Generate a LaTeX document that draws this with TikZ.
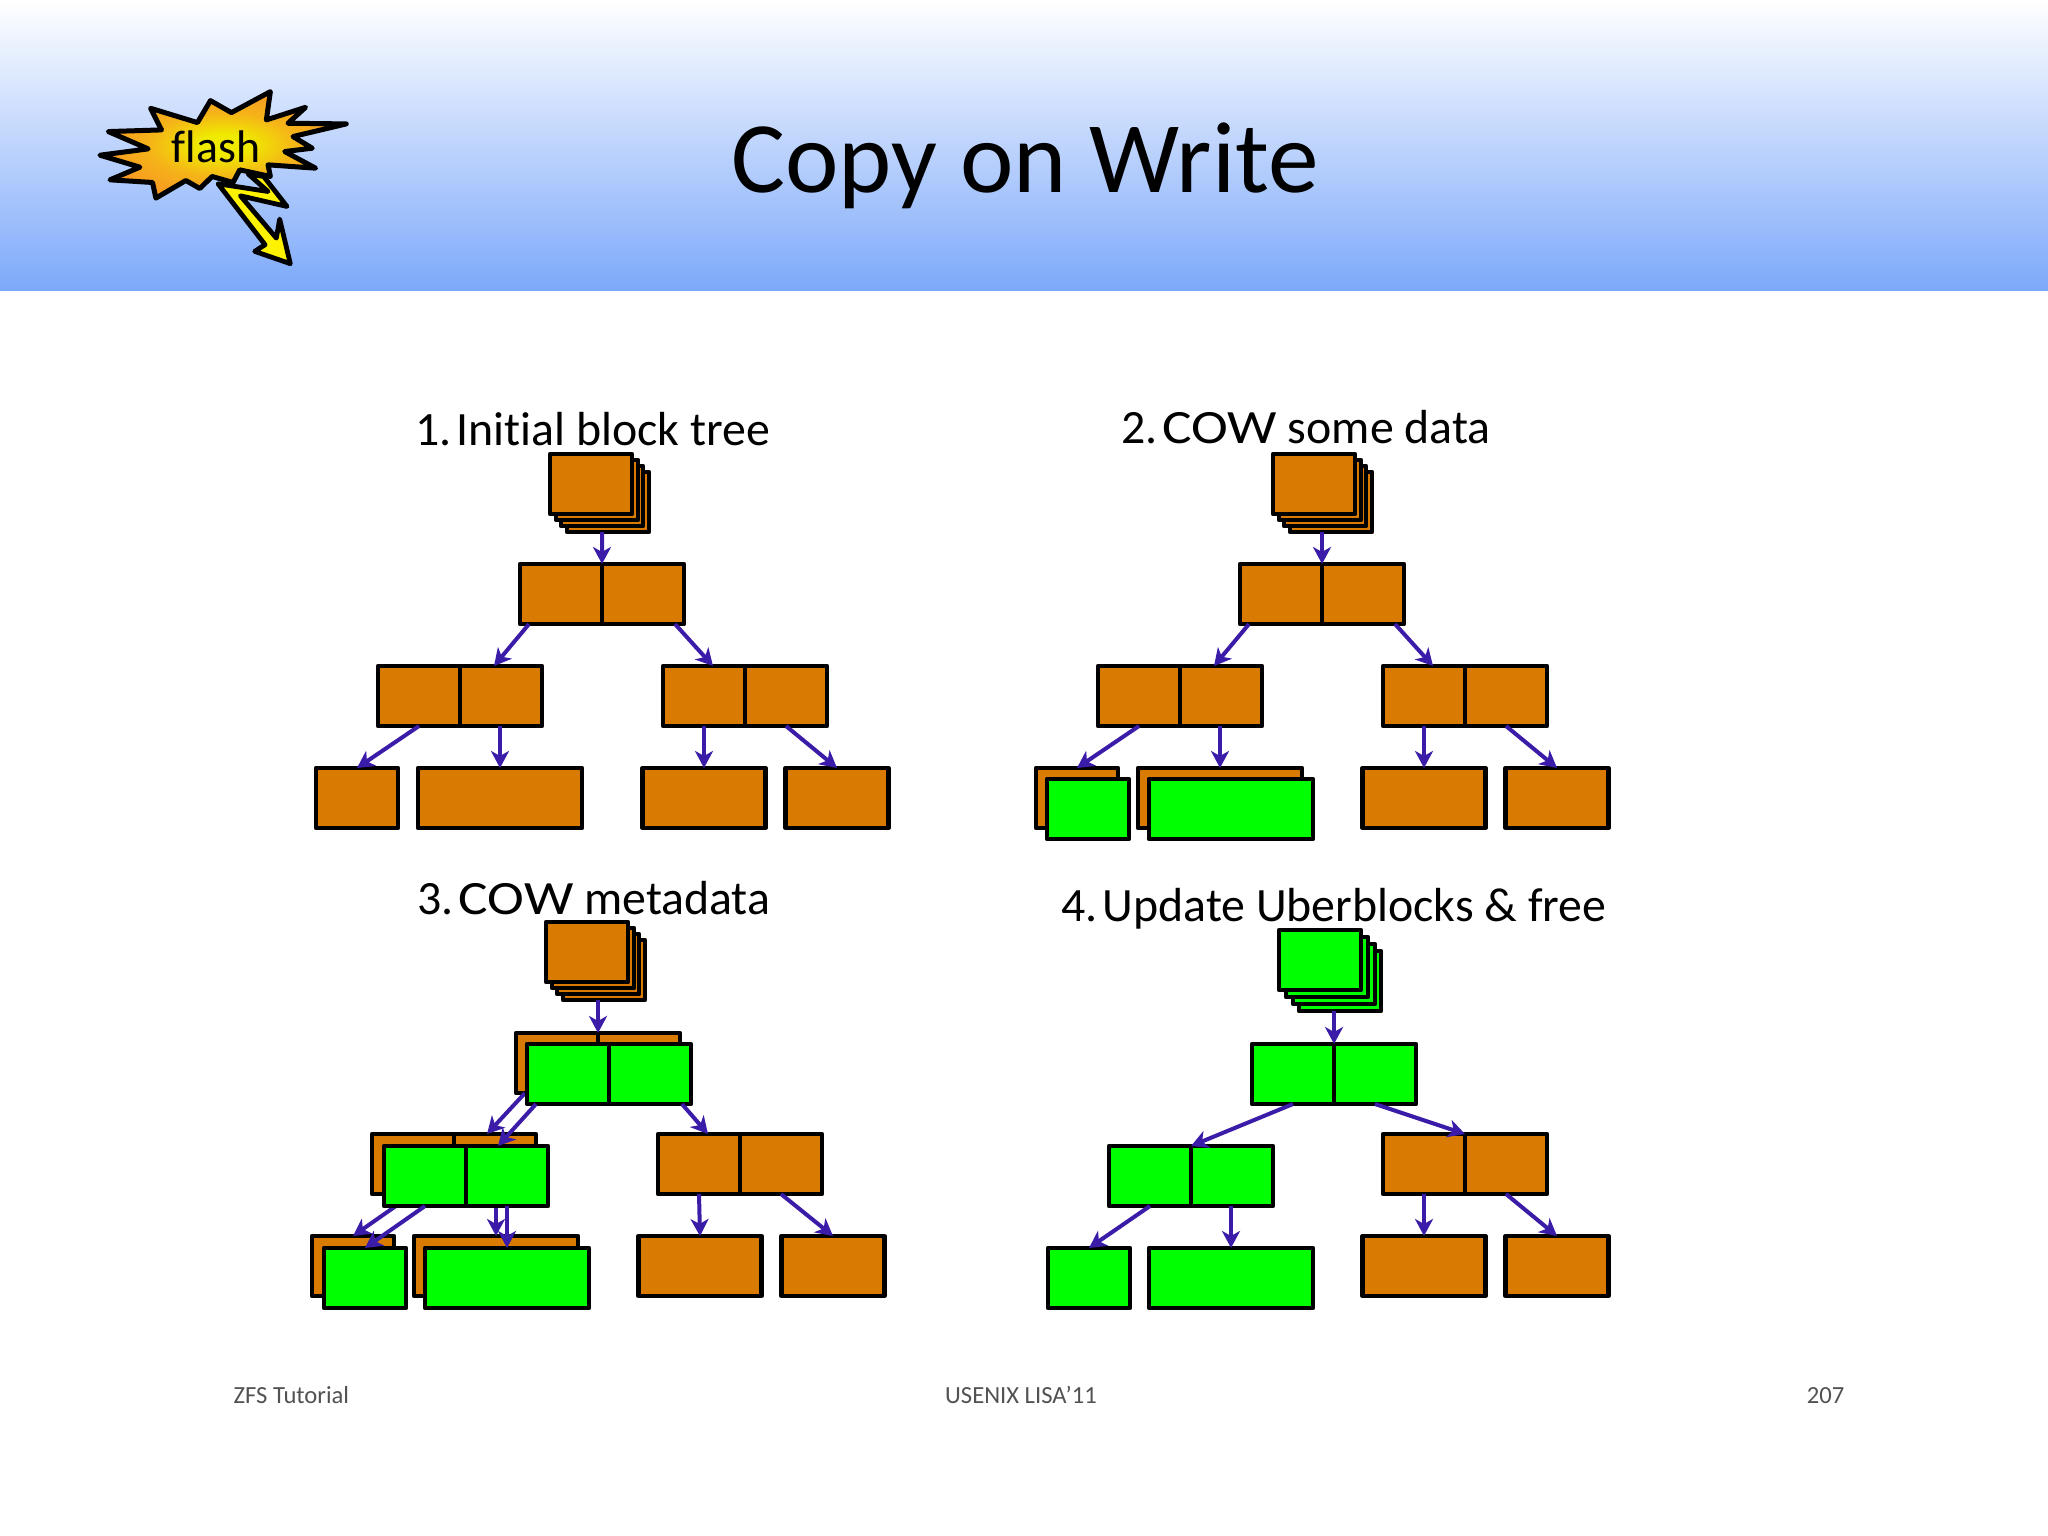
\documentclass[tikz,border=0pt]{standalone}
\usepackage{fontspec}
\setmainfont[Ligatures=NoCommon]{Carlito}
\usetikzlibrary{arrows.meta,calc}
\definecolor{oldorange}{HTML}{D97A02}
\definecolor{newgreen}{HTML}{00FF00}
\definecolor{ptrblue}{HTML}{3A1CA8}
\definecolor{headblue}{HTML}{7DA9FA}
\definecolor{burstin}{HTML}{EFEA00}
\definecolor{burstmid}{HTML}{F5B418}
\definecolor{burstout}{HTML}{F9822B}
\pgfdeclareradialshading{burst}{\pgfpoint{0bp}{0bp}}{color(0bp)=(burstin); color(5bp)=(burstin); color(15bp)=(burstmid); color(34bp)=(burstout); color(50bp)=(burstout)}
\begin{document}
\begin{tikzpicture}[
    x=0.01cm, y=-0.01cm,
    blk/.style={rectangle, draw=black, line width=0.042cm, line join=round, inner sep=0pt, outer sep=0pt, minimum height=0.6cm},
    old/.style={blk, fill=oldorange},
    new/.style={blk, fill=newgreen},
    cellw/.style={minimum width=0.82cm},
    widew/.style={minimum width=1.64cm},
    midw/.style={minimum width=1.23cm},
    slimw/.style={minimum width=1.03cm},
    ptr/.style={draw=ptrblue, line width=0.04cm, -{Stealth[length=0.17cm,width=0.18cm,inset=0.05cm]}},
    heading/.style={anchor=base, inner sep=0pt, font=\fontsize{13.6}{16}\selectfont},
    footer/.style={anchor=base, inner sep=0pt, font=\fontsize{7}{8}\selectfont, text=black!68}
]
  \useasboundingbox (0,0) rectangle (2048,1536);
  \fill[white] (0,0) rectangle (2048,1536);

  % banner
  \shade[top color=white, bottom color=headblue] (0,0) rectangle (2048,290);
  \node[anchor=base, inner sep=0pt, font=\fontsize{28.8}{31}\selectfont] (title) at (1025,192) {Copy on Write};

  % flash bolt and burst, traced
  \begin{scope}[shift={(80,70)}, x=0.00333cm, y=-0.00333cm]
    \filldraw[fill=yellow, draw=black, line width=0.048cm, line join=round]
      (415,342) -- (565,365) -- (505,312) -- (552,320) -- (622,410) -- (482,378)
      -- (590,505) -- (600,448) -- (632,582) -- (525,545) -- (556,525) -- cycle;
    \shade[shading=burst]
      (60,256) -- (205,237) -- (85,185) -- (245,180) -- (212,115) -- (353,158)
      -- (392,92) -- (455,128) -- (572,65) -- (560,150) -- (678,112) -- (625,160)
      -- (800,162) -- (640,200) -- (698,235) -- (615,245) -- (708,295) -- (565,285)
      -- (572,320) -- (480,300) -- (460,338) -- (397,320) -- (360,356) -- (318,332)
      -- (228,385) -- (218,338) -- (90,330) -- (180,292) -- cycle;
    \draw[black, line width=0.05cm, line join=round]
      (60,256) -- (205,237) -- (85,185) -- (245,180) -- (212,115) -- (353,158)
      -- (392,92) -- (455,128) -- (572,65) -- (560,150) -- (678,112) -- (625,160)
      -- (800,162) -- (640,200) -- (698,235) -- (615,245) -- (708,295) -- (565,285)
      -- (572,320) -- (480,300) -- (460,338) -- (397,320) -- (360,356) -- (318,332)
      -- (228,385) -- (218,338) -- (90,330) -- (180,292) -- cycle;
  \end{scope}
  \node[font=\fontsize{13}{15}\selectfont] (flash) at (216,147) {flash};

  % 1. initial tree
  \node[heading] (h1) at (593,445) {1.\hspace{0.1em}Initial block tree};
  \node[old, cellw] (u13) at (608,502) {};
  \node[old, cellw] (u12) at (602,496) {};
  \node[old, cellw] (u11) at (597,490) {};
  \node[old, cellw] (u10) at (591,484) {};
  \node[old, cellw] (r1a) at (561,594) {};
  \node[old, cellw] (r1b) at (643,594) {};
  \node[old, cellw] (l1a) at (419,696) {};
  \node[old, cellw] (l1b) at (501,696) {};
  \node[old, cellw] (m1a) at (704,696) {};
  \node[old, cellw] (m1b) at (786,696) {};
  \node[old, cellw] (d1a) at (357,798) {};
  \node[old, widew] (d1b) at (500,798) {};
  \node[old, midw] (d1c) at (704,798) {};
  \node[old, slimw] (d1d) at (837,798) {};

  \draw[ptr] ($(u13.south)+(-6,0)$) -- (r1a.north east);
  \draw[ptr] ($(r1a.south)+(-32,0)$) -- ($(l1b.north)+(-7,0)$);
  \draw[ptr] ($(r1b.south)+(32,0)$) -- ($(m1a.north)+(9,0)$);
  \draw[ptr] (l1a.south) -- (d1a.north);
  \draw[ptr] (d1b.north |- l1b.south) -- (d1b.north);
  \draw[ptr] (m1a.south) -- (d1c.north);
  \draw[ptr] (m1b.south) -- (d1d.north);

  % 2. some data copied
  \node[heading] (h2) at (1306,443) {2.\hspace{0.1em}{\addfontfeature{FakeStretch=1.16}COW} some data};
  \node[old, cellw] (u23) at (1331,502) {};
  \node[old, cellw] (u22) at (1325,496) {};
  \node[old, cellw] (u21) at (1320,490) {};
  \node[old, cellw] (u20) at (1314,484) {};
  \node[old, cellw] (r2a) at (1281,594) {};
  \node[old, cellw] (r2b) at (1363,594) {};
  \node[old, cellw] (l2a) at (1139,696) {};
  \node[old, cellw] (l2b) at (1221,696) {};
  \node[old, cellw] (m2a) at (1424,696) {};
  \node[old, cellw] (m2b) at (1506,696) {};
  \node[old, cellw] (d2a) at (1077,798) {};
  \node[old, widew] (d2b) at (1220,798) {};
  \node[old, midw] (d2c) at (1424,798) {};
  \node[old, slimw] (d2d) at (1557,798) {};

  \draw[ptr] (r2a.north east |- u23.south) -- (r2a.north east);
  \draw[ptr] ($(r2a.south)+(-32,0)$) -- ($(l2b.north)+(-7,0)$);
  \draw[ptr] ($(r2b.south)+(32,0)$) -- ($(m2a.north)+(9,0)$);
  \draw[ptr] (l2a.south) -- (d2a.north);
  \draw[ptr] (d2b.north |- l2b.south) -- (d2b.north);
  \draw[ptr] (m2a.south) -- (d2c.north);
  \draw[ptr] (m2b.south) -- (d2d.north);

  \node[new, cellw] (n2a) at (1088,809) {};
  \node[new, widew] (n2b) at (1231,809) {};

  % 3. metadata copied
  \node[heading] (h3) at (594,914) {3.\hspace{0.1em}{\addfontfeature{FakeStretch=1.16}COW} metadata};
  \node[old, cellw] (u33) at (604,970) {};
  \node[old, cellw] (u32) at (598,964) {};
  \node[old, cellw] (u31) at (593,958) {};
  \node[old, cellw] (u30) at (587,952) {};
  \node[old, cellw] (r3a) at (557,1063) {};
  \node[old, cellw] (r3b) at (639,1063) {};
  \node[old, cellw] (l3a) at (413,1164) {};
  \node[old, cellw] (l3b) at (495,1164) {};
  \node[old, cellw] (m3a) at (699,1164) {};
  \node[old, cellw] (m3b) at (781,1164) {};
  \node[old, cellw] (d3a) at (353,1266) {};
  \node[old, widew] (d3b) at (496,1266) {};
  \node[old, midw] (d3c) at (700,1266) {};
  \node[old, slimw] (d3d) at (833,1266) {};

  \draw[ptr] (r3a.north east |- u33.south) -- (r3a.north east);
  \draw[ptr] ($(r3a.south)+(-32,0)$) -- ($(l3b.north)+(-8,0)$);
  \draw[ptr] (l3a.south) -- (d3a.north);
  \draw[ptr] (d3b.north |- l3b.south) -- (d3b.north);
  \draw[ptr] (m3a.south) -- (d3c.north);
  \draw[ptr] (m3b.south) -- (d3d.north);

  \node[new, cellw] (n3ra) at (568,1074) {};
  \node[new, cellw] (n3rb) at (650,1074) {};
  \node[new, cellw] (n3la) at (425,1176) {};
  \node[new, cellw] (n3lb) at (507,1176) {};
  \node[new, cellw] (n3a) at (365,1278) {};
  \node[new, widew] (n3b) at (507,1278) {};

  \draw[ptr] ($(n3ra.south)+(-32,0)$) -- ($(n3lb.north)+(-9,0)$);
  \draw[ptr] ($(n3rb.south)+(32,0)$) -- ($(m3a.north)+(9,0)$);
  \draw[ptr] (n3la.south) -- (n3a.north);
  \draw[ptr] (n3lb.south) -- (n3b.north);

  % 4. uberblocks updated
  \node[heading] (h4) at (1334,921) {4.\hspace{0.1em}Update Uberblocks \& free};
  \node[new, cellw] (u43) at (1340,981) {};
  \node[new, cellw] (u42) at (1334,974) {};
  \node[new, cellw] (u41) at (1327,967) {};
  \node[new, cellw] (u40) at (1320,960) {};
  \node[new, cellw] (r4a) at (1293,1074) {};
  \node[new, cellw] (r4b) at (1375,1074) {};
  \node[new, cellw] (l4a) at (1150,1176) {};
  \node[new, cellw] (l4b) at (1232,1176) {};
  \node[old, cellw] (m4a) at (1424,1164) {};
  \node[old, cellw] (m4b) at (1506,1164) {};
  \node[new, cellw] (d4a) at (1089,1278) {};
  \node[new, widew] (d4b) at (1231,1278) {};
  \node[old, midw] (d4c) at (1424,1266) {};
  \node[old, slimw] (d4d) at (1557,1266) {};

  \draw[ptr] (r4a.north east |- u43.south) -- (r4a.north east);
  \draw[ptr] (r4a.south) -- (l4a.north east);
  \draw[ptr] (r4b.south) -- (m4a.north east);
  \draw[ptr] (l4a.south) -- (d4a.north);
  \draw[ptr] (d4b.north |- l4b.south) -- (d4b.north);
  \draw[ptr] (m4a.south) -- (d4c.north);
  \draw[ptr] (m4b.south) -- (d4d.north);

  % footer
  \node[footer, anchor=base west] (f1) at (233,1403) {ZFS Tutorial};
  \node[footer] (f2) at (1021,1403) {USENIX LISA'11};
  \node[footer, anchor=base east] (f3) at (1845,1403) {207};
\end{tikzpicture}
\end{document}
